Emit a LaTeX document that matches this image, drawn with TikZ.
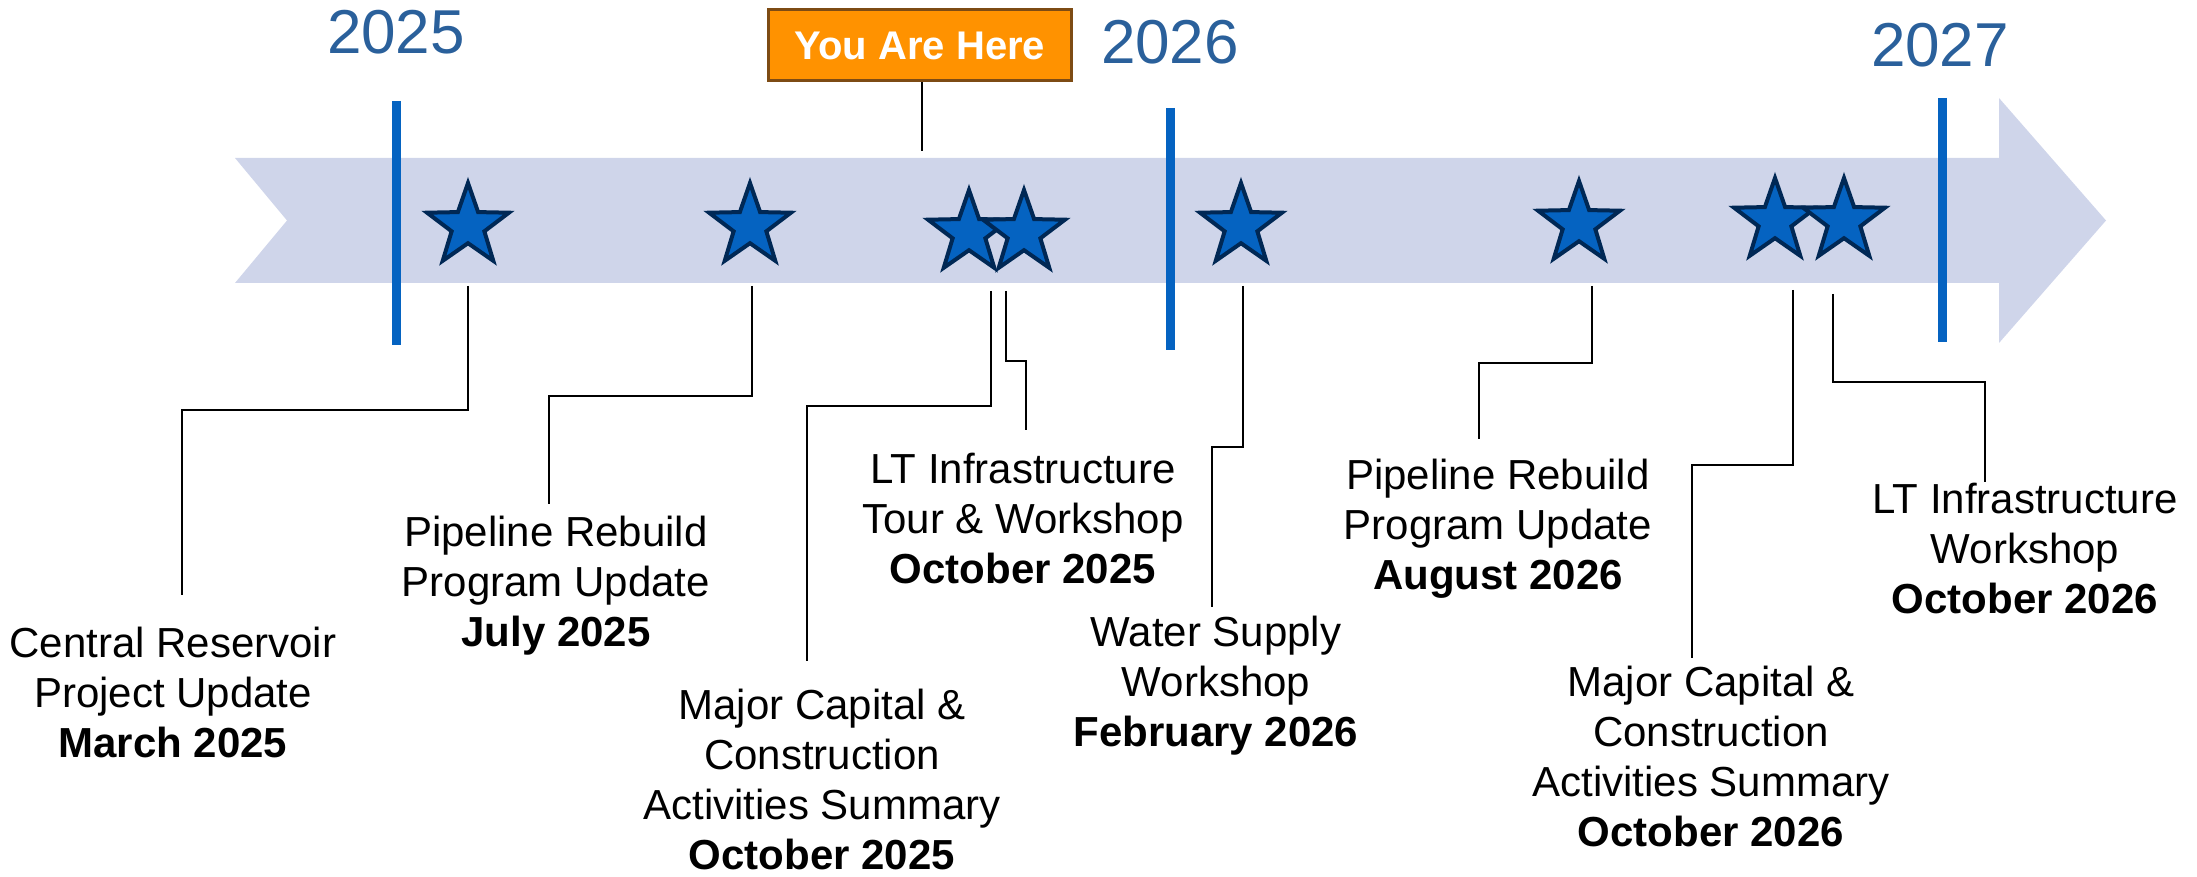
\documentclass[tikz,border=0pt]{standalone}
\usepackage{fontspec}
\setmainfont{Liberation Sans}
\usetikzlibrary{shapes.geometric}
\definecolor{bandc}{RGB}{207,213,234}
\definecolor{yearblue}{RGB}{42,96,155}
\definecolor{tickblue}{RGB}{5,99,193}
\definecolor{starfill}{RGB}{5,99,193}
\definecolor{stardraw}{RGB}{0,40,85}
\definecolor{boxfill}{RGB}{255,146,0}
\definecolor{boxdraw}{RGB}{125,75,20}
\begin{document}
\begin{tikzpicture}[x=0.5pt,y=-0.5pt,
 evstar/.style={star, star points=5, star point ratio=2.5, minimum size=43pt, inner sep=0pt, fill=starfill, draw=stardraw, line width=2pt},
 tickline/.style={draw=tickblue, line width=4.5pt},
 yr/.style={text=yearblue, font=\fontsize{31}{32}\selectfont, inner sep=0pt},
 conn/.style={draw=black, line width=1.3pt},
 lbl/.style={align=center, anchor=north, inner sep=0pt, font=\fontsize{21}{25}\selectfont},
 herebox/.style={fill=boxfill, draw=boxdraw, line width=1.5pt, minimum width=151.5pt, minimum height=35.5pt, inner sep=0pt, text=white, font=\fontsize{20}{22}\selectfont\bfseries}
]
\useasboundingbox (0,0) rectangle (2197,877);
% band arrow
\fill[bandc] (235,158) -- (1999,158) -- (1999,98) -- (2106,220.5) -- (1999,343) -- (1999,283) -- (235,283) -- (287,220.5) -- cycle;
% years and ticks
\node[yr] (y25) at (396,32) {2025};
\node[yr] (y26) at (1170,42) {2026};
\node[yr] (y27) at (1940,45) {2027};
\coordinate (t25a) at (396,101); \coordinate (t25b) at (396,345);
\coordinate (t26a) at (1170,108); \coordinate (t26b) at (1170,350);
\coordinate (t27a) at (1942,98); \coordinate (t27b) at (1942,342);
\draw[tickline] (t25a) -- (t25b);
\draw[tickline] (t26a) -- (t26b);
\draw[tickline] (t27a) -- (t27b);
% you are here
\node[herebox] (here) at (920,45.5) {You Are Here};
\coordinate (herept) at (922,151);
\draw[conn] (here.south -| herept) -- (herept);
% stars
\node[evstar] (s1) at (468,226) {};
\node[evstar] (s2) at (750,226) {};
\node[evstar] (s3) at (969,233) {};
\node[evstar] (s4) at (1024,233) {};
\node[evstar] (s5) at (1241,226) {};
\node[evstar] (s6) at (1579,224) {};
\node[evstar] (s7) at (1775,221) {};
\node[evstar] (s8) at (1844,221) {};
% labels
\node[lbl] (l1) at (173,627) {Central Reservoir\\Project Update\\\textbf{March 2025}};
\node[lbl] (l2) at (556,516) {Pipeline Rebuild\\Program Update\\\textbf{July 2025}};
\node[lbl] (l3) at (822,689) {Major Capital \&\\Construction\\Activities Summary\\\textbf{October 2025}};
\node[lbl] (l4) at (1023,453) {LT Infrastructure\\Tour \& Workshop\\\textbf{October 2025}};
\node[lbl] (l5) at (1216,616) {Water Supply\\Workshop\\\textbf{February 2026}};
\node[lbl] (l6) at (1498,459) {Pipeline Rebuild\\Program Update\\\textbf{August 2026}};
\node[lbl] (l7) at (1711,666) {Major Capital \&\\Construction\\Activities Summary\\\textbf{October 2026}};
\node[lbl] (l8) at (2025,483) {LT Infrastructure\\Workshop\\\textbf{October 2026}};
% connectors
\coordinate (c1a) at (468,286); \coordinate (c1m) at (182,410); \coordinate (c1e) at (182,595);
\coordinate (c2a) at (752,286); \coordinate (c2m) at (549,396); \coordinate (c2e) at (549,504);
\coordinate (c3a) at (991,291); \coordinate (c3m) at (807,406); \coordinate (c3e) at (807,661);
\coordinate (c4a) at (1006,291); \coordinate (c4m) at (1026,361); \coordinate (c4e) at (1026,430);
\coordinate (c5a) at (1243,286); \coordinate (c5m) at (1212,447); \coordinate (c5e) at (1212,607);
\coordinate (c6a) at (1592,286); \coordinate (c6m) at (1479,363); \coordinate (c6e) at (1479,439);
\coordinate (c7a) at (1793,290); \coordinate (c7m) at (1692,465); \coordinate (c7e) at (1692,658);
\coordinate (c8a) at (1833,294); \coordinate (c8m) at (1985,382); \coordinate (c8e) at (1985,482);
\draw[conn] (c1a) |- (c1m) -- (c1e);
\draw[conn] (c2a) |- (c2m) -- (c2e);
\draw[conn] (c3a) |- (c3m) -- (c3e);
\draw[conn] (c4a) |- (c4m) -- (c4e);
\draw[conn] (c5a) |- (c5m) -- (c5e);
\draw[conn] (c6a) |- (c6m) -- (c6e);
\draw[conn] (c7a) |- (c7m) -- (c7e);
\draw[conn] (c8a) |- (c8m) -- (c8e);
\end{tikzpicture}
\end{document}
